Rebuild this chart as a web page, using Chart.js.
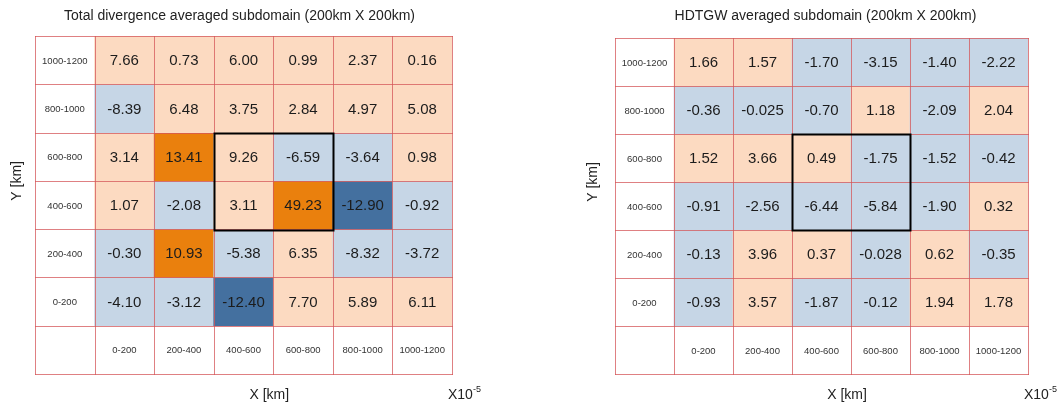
<!DOCTYPE html>
<html>
<head>
<meta charset="utf-8">
<script src="https://cdn.jsdelivr.net/npm/chart.js@4.4.0/dist/chart.umd.min.js"></script>
<style>
body{margin:0;background:#fff;}
#wrap{position:relative;width:1063px;height:404px;}
canvas{position:absolute;top:0;}
</style>
</head>
<body>
<div id="wrap">
<canvas id="divergencia" width="531" height="404" style="left:0"></canvas>
<canvas id="hdtgw" width="532" height="404" style="left:531px"></canvas>
</div>
<script>
const xRangos = ['0-200', '200-400', '400-600', '600-800', '800-1000', '1000-1200'];
// de arriba hacia abajo
const yRangos = ['1000-1200', '800-1000', '600-800', '400-600', '200-400', '0-200'];

const divergencia = [
    [7.66, 0.73, 6.00, 0.99, 2.37, 0.16],
    [-8.39, 6.48, 3.75, 2.84, 4.97, 5.08],
    [3.14, 13.41, 9.26, -6.59, -3.64, 0.98],
    [1.07, -2.08, 3.11, 49.23, -12.90, -0.92],
    [-0.30, 10.93, -5.38, 6.35, -8.32, -3.72],
    [-4.10, -3.12, -12.40, 7.70, 5.89, 6.11]
];
const hdtgw = [
    [1.66, 1.57, -1.70, -3.15, -1.40, -2.22],
    [-0.36, -0.025, -0.70, 1.18, -2.09, 2.04],
    [1.52, 3.66, 0.49, -1.75, -1.52, -0.42],
    [-0.91, -2.56, -6.44, -5.84, -1.90, 0.32],
    [-0.13, 3.96, 0.37, -0.028, 0.62, -0.35],
    [-0.93, 3.57, -1.87, -0.12, 1.94, 1.78]
];

// subdominio marcado con el recuadro negro
const cajaX = ['400-600', '600-800'];
const cajaY = ['600-800', '400-600'];

const fuente = '"Liberation Sans", Arial, sans-serif';

function colorCelda(v) {
    if (v > 10) return '#EA800D';
    if (v < -10) return '#44709F';
    if (v >= 0) return '#FCDAC1';
    return '#C6D6E6';
}

function formato(v) {
    return Math.abs(v) < 0.1 ? v.toFixed(3) : v.toFixed(2);
}

const tablaPlugin = {
    id: 'tabla',
    afterDatasetsDraw(chart) {
        const ctx = chart.ctx;
        const valores = chart.options.plugins.tabla.valores;
        const metas = chart.getSortedVisibleDatasetMetas();
        const xs = new Set(), ys = new Set();
        let caja = null;
        ctx.save();
        ctx.textAlign = 'center';
        ctx.textBaseline = 'middle';
        metas.forEach((meta, r) => {
            meta.data.forEach((el, c) => {
                const p = el.getProps(['x', 'y', 'base', 'width'], true);
                const izq = p.x - p.width / 2, der = p.x + p.width / 2;
                const arr = Math.min(p.y, p.base), aba = Math.max(p.y, p.base);
                xs.add(Math.round(izq)); xs.add(Math.round(der));
                ys.add(Math.round(arr)); ys.add(Math.round(aba));
                const cy = (arr + aba) / 2;
                let texto = '';
                if (r < yRangos.length && c > 0) {
                    ctx.font = '15px ' + fuente;
                    ctx.fillStyle = '#1c1c1c';
                    texto = formato(valores[r][c - 1]);
                } else {
                    ctx.font = '9.5px ' + fuente;
                    ctx.fillStyle = '#333';
                    if (c > 0) texto = xRangos[c - 1];
                    else if (r < yRangos.length) texto = yRangos[r];
                }
                if (texto) ctx.fillText(texto, p.x, cy + 1);
                if (r < yRangos.length && c > 0 &&
                    cajaY.includes(yRangos[r]) && cajaX.includes(xRangos[c - 1])) {
                    if (!caja) caja = {izq, der, arr, aba};
                    caja.izq = Math.min(caja.izq, izq); caja.der = Math.max(caja.der, der);
                    caja.arr = Math.min(caja.arr, arr); caja.aba = Math.max(caja.aba, aba);
                }
            });
        });
        // rejilla
        const a = chart.chartArea;
        ctx.strokeStyle = 'rgba(212, 86, 88, 0.75)';
        ctx.lineWidth = 1;
        ctx.beginPath();
        xs.forEach(x => { ctx.moveTo(x + 0.5, Math.round(a.top)); ctx.lineTo(x + 0.5, Math.round(a.bottom) + 1); });
        ys.forEach(y => { ctx.moveTo(Math.round(a.left), y + 0.5); ctx.lineTo(Math.round(a.right) + 1, y + 0.5); });
        ctx.stroke();
        if (caja) {
            ctx.strokeStyle = '#000';
            ctx.lineWidth = 2;
            ctx.strokeRect(Math.round(caja.izq) + 0.5, Math.round(caja.arr) + 0.5,
                Math.round(caja.der - caja.izq), Math.round(caja.aba - caja.arr));
        }
        ctx.restore();
    },
    afterDraw(chart) {
        const ctx = chart.ctx;
        const op = chart.options.plugins.tabla;
        const a = chart.chartArea;
        const colAncho = (a.right - a.left) / 7;
        const filaAlto = (a.bottom - a.top) / 7;
        ctx.save();
        ctx.fillStyle = '#222';
        ctx.textBaseline = 'middle';
        ctx.textAlign = 'center';
        ctx.font = '14px ' + fuente;
        ctx.fillText(op.titulo, (a.left + a.right) / 2 + op.dxTitulo, 16);
        ctx.fillText('X [km]', a.left + colAncho + (a.right - a.left - colAncho) / 2 - 4, 395);
        ctx.textAlign = 'left';
        ctx.fillText('X10', a.right - 4, 395);
        ctx.font = '9px ' + fuente;
        ctx.fillText('-5', a.right - 4 + ctx.measureText('X10').width * 14 / 9, 390);
        ctx.font = '14px ' + fuente;
        ctx.translate(a.left - op.dxY, a.top + filaAlto * 3);
        ctx.rotate(-Math.PI / 2);
        ctx.textAlign = 'center';
        ctx.fillText('Y [km]', 0, 0);
        ctx.restore();
    }
};

function crearTabla(id, valores, titulo, padding, dxTitulo, dxY) {
    const columnas = [''].concat(xRangos);
    const filas = yRangos.concat(['']);
    const datasets = filas.map((fila, r) => ({
        label: fila,
        data: columnas.map(() => 1),
        backgroundColor: columnas.map((col, c) =>
            (r < yRangos.length && c > 0) ? colorCelda(valores[r][c - 1]) : '#ffffff'),
        borderWidth: 0,
        barPercentage: 1,
        categoryPercentage: 1
    }));
    return new Chart(document.getElementById(id), {
        type: 'bar',
        data: { labels: columnas, datasets: datasets },
        options: {
            responsive: false,
            animation: false,
            layout: { padding: padding },
            scales: {
                x: { stacked: true, display: false },
                y: { stacked: true, display: false, min: 0, max: 7, reverse: true }
            },
            plugins: {
                legend: { display: false },
                tooltip: { enabled: false },
                tabla: { valores: valores, titulo: titulo, dxTitulo: dxTitulo, dxY: dxY }
            }
        },
        plugins: [tablaPlugin]
    });
}

crearTabla('divergencia', divergencia, 'Total divergence averaged subdomain (200km X 200km)',
    { left: 35, right: 79, top: 36, bottom: 30 }, -4, 18);
crearTabla('hdtgw', hdtgw, 'HDTGW averaged subdomain (200km X 200km)',
    { left: 84, right: 35, top: 38, bottom: 30 }, 4, 22);
</script>
</body>
</html>
